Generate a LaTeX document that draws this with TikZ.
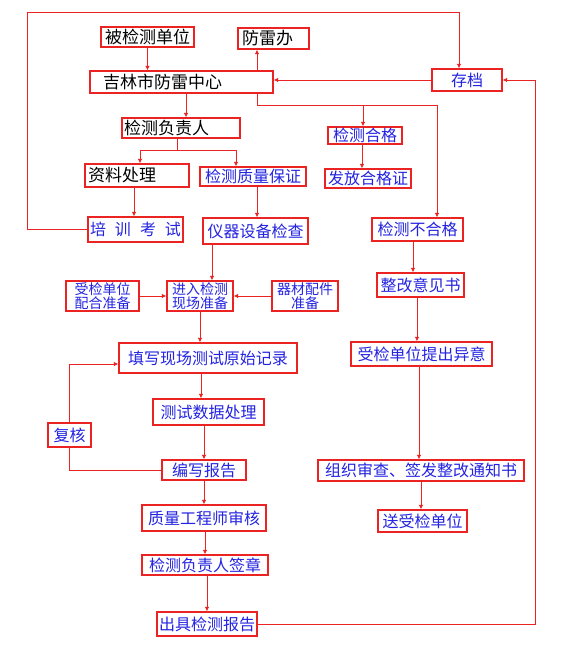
\documentclass[tikz,border=0pt]{standalone}
\usepackage{fontspec}
\newfontfamily\cjk{Noto Sans CJK SC}
\usetikzlibrary{arrows.meta}
\definecolor{lred}{RGB}{235,35,35}
\definecolor{tblue}{RGB}{35,35,225}
\tikzset{
  bx/.style={draw=lred, line width=1.2pt, inner sep=0pt, text=tblue, fill=white,
             font=\cjk\fontsize{16}{16}\selectfont},
  bk/.style={bx, text=black, font=\cjk\fontsize{17}{17}\selectfont},
  two/.style={bx, font=\cjk\fontsize{14}{14.5}\selectfont, align=center},
  ln/.style={draw=lred, line width=1pt},
  arr/.style={ln, -{Latex[length=4.5pt,width=4.5pt]}},
}
\begin{document}
\begin{tikzpicture}[x=1pt,y=-1pt]
\fill[white] (0,0) rectangle (568,654);
\useasboundingbox (0,0) rectangle (568,654);
% black boxes
\node[bk, minimum width=93pt, minimum height=20pt] (bjc) at (147.5,37) {被检测单位};
\node[bk, minimum height=21pt, text width=63pt, inner xsep=4pt, align=left] (fld) at (273.5,38.5) {防雷办};
\node[bk, minimum height=22pt, text width=157pt, inner xsep=13pt, align=left] (jl) at (181.5,82) {吉林市防雷中心};
\node[bk, minimum height=20pt, text width=114pt, inner xsep=2pt, align=left] (fzr) at (181,128) {检测负责人};
\node[bk, minimum height=23pt, text width=98pt, inner xsep=3pt, align=left] (zl) at (137,175.5) {资料处理};
% blue boxes
\node[bx, minimum width=70pt, minimum height=22pt] (cd) at (467,80) {存档};
\node[bx, minimum width=74pt, minimum height=17pt] (hg) at (365,135.5) {检测合格};
\node[bx, minimum width=86pt, minimum height=19pt] (ffz) at (368,178.5) {发放合格证};
\node[bx, minimum width=106pt, minimum height=19pt] (zlbz) at (253,176.5) {检测质量保证};
\node[bx, minimum width=95pt, minimum height=25pt] (px) at (135.5,229.5) {培\hspace{9pt}训\hspace{9pt}考\hspace{9pt}试};
\node[bx, minimum width=105pt, minimum height=26pt] (yq) at (255.5,231) {仪器设备检查};
\node[bx, minimum width=91pt, minimum height=23pt] (bhg) at (417.5,229.5) {检测不合格};
\node[two, minimum width=73pt, minimum height=30pt] (sj) at (102.5,296) {受检单位\\配合准备};
\node[two, minimum width=66pt, minimum height=30pt] (jr) at (200,296) {进入检测\\现场准备};
\node[two, minimum width=66pt, minimum height=30pt] (qc) at (305,296) {器材配件\\准备};
\node[bx, minimum width=87pt, minimum height=24pt] (zgyj) at (420.5,285) {整改意见书};
\node[bx, minimum width=141pt, minimum height=24pt] (yy) at (421.5,354) {受检单位提出异意};
\node[bx, minimum width=178pt, minimum height=30pt] (tx) at (208,358) {填写现场测试原始记录};
\node[bx, minimum width=111pt, minimum height=26pt] (cs) at (208.5,412) {测试数据处理};
\node[bx, minimum width=43pt, minimum height=24pt] (fh) at (69.5,435) {复核};
\node[bx, minimum width=84pt, minimum height=20pt] (bxg) at (204,470) {编写报告};
\node[bx, minimum width=206pt, minimum height=21pt] (zz) at (421,470.5) {组织审查、签发整改通知书};
\node[bx, minimum width=89pt, minimum height=22pt] (sdw) at (422.5,521) {送受检单位};
\node[bx, minimum width=124pt, minimum height=26pt] (zg) at (204,518) {质量工程师审核};
\node[bx, minimum width=126pt, minimum height=20pt] (qz) at (205,565) {检测负责人签章};
\node[bx, minimum width=100pt, minimum height=24pt] (cj) at (207,624) {出具检测报告};
% helper coordinates
\coordinate (j1) at (363,105);
\coordinate (j2) at (177,150);
\coordinate (lx) at (27,12);
\coordinate (rx) at (535,0);
% connectors
\draw[arr] (bjc.south) -- (bjc.south |- jl.north);
\draw[arr] ([xshift=75.5pt]jl.north) -- ([xshift=75.5pt]jl.north |- fld.south);
\draw[arr] ([xshift=75.5pt]jl.south) -- ([xshift=75.5pt]jl.south |- j1) -| ([xshift=19.5pt]bhg.north);
\draw[arr] (j1) -- (j1 |- hg.north);
\draw[arr] ([xshift=-3pt]hg.south) -- ([xshift=-3pt]hg.south |- ffz.north);
\draw[arr] ([xshift=4.5pt]jl.south) -- ([xshift=4.5pt]jl.south |- fzr.north);
\draw[ln] (j2 |- fzr.south) -- (j2);
\draw[arr] (j2) -| ([xshift=3pt]zl.north);
\draw[arr] (j2) -| ([xshift=-17pt]zlbz.north);
\draw[arr] ([xshift=-3pt]zl.south) -- ([xshift=-3pt]zl.south |- px.north);
\draw[arr] (px.west) -| (lx) -| ([xshift=-8pt]cd.north);
\draw[arr] (cd.west) -- (cd.west -| jl.east);
\draw[arr] ([xshift=4pt]zlbz.south) -- ([xshift=4pt]zlbz.south |- yq.north);
\draw[arr] ([xshift=12pt]jr.north |- yq.south) -- ([xshift=12pt]jr.north);
\draw[arr] (sj.east) -- (jr.west);
\draw[arr] (qc.west) -- (jr.east);
\draw[arr] (jr.south) -- (jr.south |- tx.north);
\draw[arr] ([xshift=-7.5pt]cs.north |- tx.south) -- ([xshift=-7.5pt]cs.north);
\draw[arr] (bxg.north |- cs.south) -- (bxg.north);
\draw[ln] (bxg.west) -| (fh.south);
\draw[arr] (fh.north) |- ([yshift=-6pt]tx.west);
\draw[arr] (bxg.south) -- (bxg.south |- zg.north);
\draw[arr] (qz.north |- zg.south) -- (qz.north);
\draw[arr] (cj.north |- qz.south) -- (cj.north);
\draw[arr] (cj.east) -| (rx |- cd.east) -- (cd.east);
\draw[arr] ([xshift=-4.5pt]bhg.south) -- ([xshift=-4.5pt]bhg.south |- zgyj.north);
\draw[arr] ([xshift=-3.5pt]zgyj.south) -- ([xshift=-3.5pt]zgyj.south |- yy.north);
\draw[arr] ([xshift=-2.5pt]yy.south) -- ([xshift=-2.5pt]yy.south |- zz.north);
\draw[arr] (zz.south) -- (zz.south |- sdw.north);
\end{tikzpicture}
\end{document}
